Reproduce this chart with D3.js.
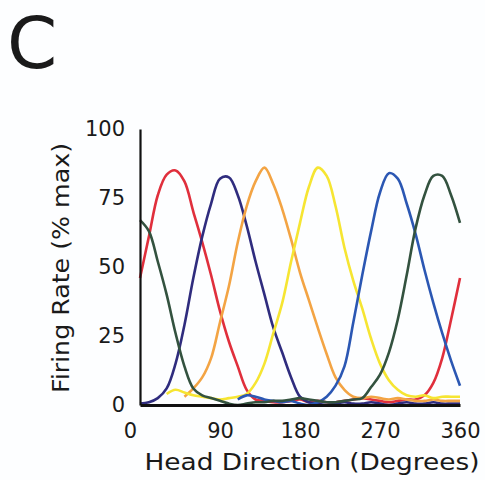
<!DOCTYPE html>
<html>
<head>
<meta charset="utf-8">
<script src="https://cdn.jsdelivr.net/npm/d3@7"></script>
<style>
  html, body { margin: 0; padding: 0; background: #fdfeff; }
  svg text { font-family: "DejaVu Sans", "Liberation Sans", Arial, sans-serif; fill: #1a1a1a; }
</style>
</head>
<body>
<div id="chart"></div>
<script>
// head direction (degrees), sampled every 10 degrees
const degrees = [0, 10, 20, 30, 40, 50, 60, 70, 80, 90, 100, 110, 120, 130, 140, 150, 160, 170, 180,
  190, 200, 210, 220, 230, 240, 250, 260, 270, 280, 290, 300, 310, 320, 330, 340, 350, 360];

// firing rate (% max) per cell, null where the trace is not drawn
const red = [46, 61, 76, 83.5, 85, 81, 70, 59, 47, 34, 23, 14, 5.5, 2, 1.5, 1, 1, 1.5, 2,
  1, 1.5, 1, 1, 1.5, 2, 2.5, 2, 1.5, 1, 1.5, 2, 2, 3.5, 8, 17, 31, 46];
const navy = [0.5, 1, 2.5, 6, 15, 29, 46, 61, 73, 82, 82.5, 76, 65, 52, 40, 28, 19, 10, 3,
  1, 0.5, 0, 0.5, 1, 0.5, 0.5, 1, 0.5, 0, 0.5, 1, 0.5, 0.5, 1, 0.5, 0.5, 0.5];
const orange = [null, null, null, null, null, 3, 6, 10, 17, 30, 43, 59, 72, 81, 86, 80, 71, 60, 48,
  38, 28, 18.5, 10, 5.5, 3, 2.5, 3, 2.5, 2, 2.5, 2, 1.5, 1.5, 2, 1.5, 1.5, 1.5];
const yellow = [null, null, null, 4, 5.5, 4.5, 3.5, 3, 2.5, 2, 2.5, 3, 4, 8, 15, 26, 37, 52, 66,
  79, 86, 83, 72, 57, 45, 35, 24, 15, 9, 5.5, 3.5, 3, 3.5, 2.5, 3, 3, 3];
const blue = [null, null, null, null, null, null, null, null, null, null, null, 2, 3.5, 3, 2, 1.5, 1, 1.5, 0.5,
  0, 1, 3, 7, 14, 30, 47, 63, 77, 84, 82, 73, 62, 49, 37, 26, 16, 7];
const green = [67, 63, 52, 40, 26, 14, 6, 3.5, 2.5, 1.5, 0.5, 0, 0.5, 1, 1, 1.5, 1.5, 2, 2.5,
  2, 1.5, 1, 1, 1.5, 2, 2.5, 6.5, 11, 19, 31, 47, 64, 76, 83, 83, 76, 66];

const series = [
  { name: "red", values: red, color: "#e02f3c" },
  { name: "navy", values: navy, color: "#2f2c7e" },
  { name: "orange", values: orange, color: "#f3a444" },
  { name: "yellow", values: yellow, color: "#f6e532" },
  { name: "blue", values: blue, color: "#2b57b3" },
  { name: "green", values: green, color: "#33523f" }
];

const yTicks = [0, 25, 50, 75, 100];
const xTicks = [0, 90, 180, 270, 360];

const width = 485;
const height = 480;

const svg = d3
  .select("#chart")
  .append("svg")
  .attr("width", width)
  .attr("height", height);

const x = d3.scaleLinear().domain([0, 360]).range([140, 460]);
const y = d3.scaleLinear().domain([0, 100]).range([405, 129]);

// panel letter
svg.append("text")
  .attr("x", 7)
  .attr("y", 68)
  .attr("font-size", 72)
  .text("C");

// traces
const line = d3
  .line()
  .defined((d) => d[1] != null)
  .x((d) => x(d[0]))
  .y((d) => y(d[1]))
  .curve(d3.curveCatmullRom.alpha(0.5));

svg.append("g")
  .selectAll("path")
  .data(series)
  .join("path")
  .attr("fill", "none")
  .attr("stroke", (d) => d.color)
  .attr("stroke-width", 2.6)
  .attr("stroke-linejoin", "round")
  .attr("d", (d) => line(degrees.map((deg, i) => [deg, d.values[i]])));

// axes
const xAxis = svg.append("g")
  .attr("transform", `translate(0,${y(0)})`)
  .call(d3.axisBottom(x).tickValues(xTicks).tickSize(0).tickPadding(18));
xAxis.select(".domain").attr("stroke", "#111").attr("stroke-width", 3);
xAxis.selectAll("text")
  .attr("font-size", 21)
  .attr("dx", (d) => (d === 0 ? -10 : 0));

const yAxis = svg.append("g")
  .attr("transform", `translate(${x(0)},0)`)
  .call(d3.axisLeft(y).tickValues(yTicks).tickSize(0).tickPadding(15));
yAxis.select(".domain").attr("stroke", "#111").attr("stroke-width", 2.2);
yAxis.selectAll("text").attr("font-size", 21);

svg.append("text")
  .attr("transform", "translate(69,268) rotate(-90)")
  .attr("text-anchor", "middle")
  .attr("font-size", 23)
  .attr("textLength", 250)
  .attr("lengthAdjust", "spacingAndGlyphs")
  .text("Firing Rate (% max)");

svg.append("text")
  .attr("x", 312)
  .attr("y", 470)
  .attr("text-anchor", "middle")
  .attr("font-size", 23)
  .attr("textLength", 335)
  .attr("lengthAdjust", "spacingAndGlyphs")
  .text("Head Direction (Degrees)");
</script>
</body>
</html>
